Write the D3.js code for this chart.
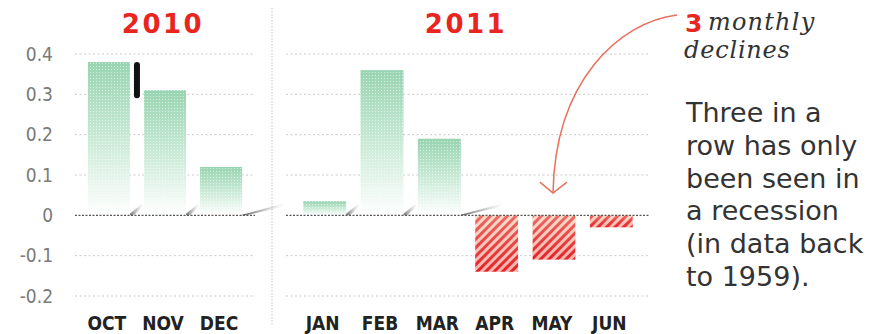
<!DOCTYPE html>
<html><head><meta charset="utf-8">
<script src="https://cdn.jsdelivr.net/npm/d3@7"></script>
<style>
html,body{margin:0;padding:0;background:#fff;}
svg{display:block;}
</style></head>
<body>
<script>
// ---- data ----
const years = ["2010", "2011"];
const months2010 = ["OCT", "NOV", "DEC"];
const values2010 = [0.38, 0.31, 0.12];
const months2011 = ["JAN", "FEB", "MAR", "APR", "MAY", "JUN"];
const values2011 = [0.035, 0.36, 0.19, -0.14, -0.11, -0.03];
const yTicks = [0.4, 0.3, 0.2, 0.1, 0, -0.1, -0.2];
const yTickLabels = ["0.4", "0.3", "0.2", "0.1", "0", "-0.1", "-0.2"];
const noteNumber = "3";
const noteTitle = ["monthly", "declines"];
const noteBody = ["Three in a", "row has only", "been seen in", "a recession", "(in data back", "to 1959)."];

// ---- layout ----
const W = 890, H = 334;
const svg = d3.select("body").append("svg").attr("width", W).attr("height", H);
const defs = svg.append("defs");

const y = d3.scaleLinear().domain([-0.2, 0.4]).range([296, 54]);
const x1 = d3.scaleBand().domain(months2010).range([75, 255]).paddingInner(0.25).paddingOuter(0.23);
const x2 = d3.scaleBand().domain(months2011).range([286, 650]).paddingInner(0.25).paddingOuter(0.3);

// gradients / patterns
const gPos = defs.append("linearGradient").attr("id", "gPos").attr("x1", 0).attr("y1", 0).attr("x2", 0).attr("y2", 1);
gPos.append("stop").attr("offset", 0).attr("stop-color", "#98d4b1");
gPos.append("stop").attr("offset", 0.45).attr("stop-color", "#c5e8d3");
gPos.append("stop").attr("offset", 1).attr("stop-color", "#ffffff");

const dots = defs.append("pattern").attr("id", "dots").attr("patternUnits", "userSpaceOnUse")
  .attr("width", 3).attr("height", 3);
dots.append("rect").attr("x", 0).attr("y", 0).attr("width", 1).attr("height", 1).attr("fill", "#fff").attr("opacity", 0.55);

const gNeg = defs.append("linearGradient").attr("id", "gNeg").attr("x1", 0).attr("y1", 0).attr("x2", 0).attr("y2", 1);
gNeg.append("stop").attr("offset", 0).attr("stop-color", "#fcdcc8");
gNeg.append("stop").attr("offset", 1).attr("stop-color", "#f7b3aa");

const hatch = defs.append("pattern").attr("id", "hatch").attr("patternUnits", "userSpaceOnUse")
  .attr("width", 6).attr("height", 6).attr("patternTransform", "rotate(45)");
hatch.append("rect").attr("x", 0).attr("y", 0).attr("width", 3).attr("height", 6).attr("fill", "#e2232a");

const gMaskGrad = defs.append("linearGradient").attr("id", "gMask").attr("x1", 0).attr("y1", 0).attr("x2", 0).attr("y2", 1);
gMaskGrad.append("stop").attr("offset", 0).attr("stop-color", "#fff").attr("stop-opacity", 0.6);
gMaskGrad.append("stop").attr("offset", 1).attr("stop-color", "#fff").attr("stop-opacity", 1);

const gShadow = defs.append("linearGradient").attr("id", "gShadow").attr("x1", 0).attr("y1", 0).attr("x2", 1).attr("y2", 0);
gShadow.append("stop").attr("offset", 0).attr("stop-color", "#333").attr("stop-opacity", 0.85);
gShadow.append("stop").attr("offset", 1).attr("stop-color", "#999").attr("stop-opacity", 0);

const fontCond = "'DejaVu Sans Condensed','DejaVu Sans',sans-serif";

// y tick labels
svg.append("g").selectAll("text").data(yTicks).join("text")
  .attr("x", 53).attr("y", d => y(d) + 1)
  .attr("text-anchor", "end").attr("dominant-baseline", "middle")
  .style("font-family", fontCond).style("font-stretch", "condensed")
  .attr("font-size", 19).attr("fill", "#7a7a7a")
  .text((d, i) => yTickLabels[i]);

// separator
svg.append("line").attr("x1", 272).attr("x2", 272).attr("y1", 8).attr("y2", 326)
  .attr("stroke", "#cfcfcf").attr("stroke-width", 1.2).attr("stroke-dasharray", "1.5,1.5");

function panel(x, months, values, year) {
  const g = svg.append("g");
  const [r0, r1] = x.range();
  // gridlines
  g.selectAll("line.grid").data(yTicks.filter(d => d !== 0)).join("line")
    .attr("x1", r0).attr("x2", r1).attr("y1", d => y(d)).attr("y2", d => y(d))
    .attr("stroke", "#c9c9c9").attr("stroke-width", 1).attr("stroke-dasharray", "2,2.5");
  const data = months.map((m, i) => ({ m, v: values[i], i }));
  const pos = data.filter(d => d.v > 0);
  // shadows
  g.selectAll("path.shadow").data(pos).join("path")
    .attr("d", d => {
      const bx = x(d.m) + x.bandwidth(), by = y(0);
      const next = data[d.i + 1];
      const L = (!next || next.v <= 0) ? 42 : 13;
      return `M${bx - 2},${by} L${bx + L},${by - 12} L${bx + L},${by - 9} L${bx + 4},${by} Z`;
    })
    .attr("fill", "url(#gShadow)");
  g.selectAll("rect.pos").data(pos).join("rect")
    .attr("x", d => x(d.m)).attr("width", x.bandwidth())
    .attr("y", d => y(d.v)).attr("height", d => y(0) - y(d.v))
    .attr("fill", "url(#gPos)");
  g.selectAll("rect.posd").data(pos).join("rect")
    .attr("x", d => x(d.m)).attr("width", x.bandwidth())
    .attr("y", d => y(d.v)).attr("height", d => y(0) - y(d.v))
    .attr("fill", "url(#dots)");
  // negative bars
  const neg = data.filter(d => d.v < 0);
  g.selectAll("rect.neg").data(neg).join("rect")
    .attr("x", d => x(d.m)).attr("width", x.bandwidth())
    .attr("y", y(0)).attr("height", d => y(d.v) - y(0))
    .attr("fill", "url(#gNeg)");
  neg.forEach(d => {
    const id = "m" + d.m;
    const mk = defs.append("mask").attr("id", id);
    mk.append("rect").attr("x", x(d.m)).attr("width", x.bandwidth())
      .attr("y", y(0)).attr("height", y(d.v) - y(0)).attr("fill", "url(#gMask)");
    g.append("rect").attr("x", x(d.m)).attr("width", x.bandwidth())
      .attr("y", y(0)).attr("height", y(d.v) - y(0))
      .attr("fill", "url(#hatch)").attr("mask", `url(#${id})`);
  });
  // zero line
  g.append("line").attr("x1", r0).attr("x2", r1).attr("y1", y(0)).attr("y2", y(0))
    .attr("stroke", "#555").attr("stroke-width", 1.4).attr("stroke-dasharray", "2,1.5");
  // month labels
  g.selectAll("text.month").data(data).join("text")
    .attr("x", d => x(d.m) + x.bandwidth() / 2 - 2).attr("y", 330)
    .attr("text-anchor", "middle")
    .style("font-family", fontCond).style("font-stretch", "condensed").attr("font-weight", "bold")
    .attr("font-size", 19).attr("fill", "#222").text(d => d.m);
  // year title
  g.append("text").attr("x", (r0 + r1) / 2 - 2).attr("y", 33).attr("text-anchor", "middle")
    .attr("font-family", "'DejaVu Sans',sans-serif").attr("font-weight", "bold")
    .attr("font-size", 26).attr("letter-spacing", 2.5).attr("fill", "#e8261f").text(year);
  return g;
}
panel(x1, months2010, values2010, years[0]);
panel(x2, months2011, values2011, years[1]);

// black decline marker between OCT and NOV
{
  const mx = x1(months2010[0]) + x1.bandwidth() + 7;
  svg.append("path")
    .attr("d", `M${mx},${y(values2010[0]) + 3} L${mx},${y(values2010[1]) + 5}`)
    .attr("stroke", "#111").attr("stroke-width", 6).attr("stroke-linecap", "round");
}

// annotation arrow
{
  const tx = x2("MAY") + x2.bandwidth() / 2 - 1;
  const ty = y(0.055);
  const sx = 677, sy = 15;
  svg.append("path")
    .attr("d", `M${sx},${sy} C${620},${22} ${tx + 2},${80} ${tx},${ty}`)
    .attr("fill", "none").attr("stroke", "#e8705c").attr("stroke-width", 1.5);
  svg.append("path")
    .attr("d", `M${tx - 13},${ty - 11} L${tx},${ty} L${tx + 14},${ty - 11}`)
    .attr("fill", "none").attr("stroke", "#e8705c").attr("stroke-width", 1.5);
}

// annotation text
svg.append("text").attr("x", 685).attr("y", 32)
  .attr("font-family", "'DejaVu Sans',sans-serif").attr("font-weight", "bold")
  .attr("font-size", 25).attr("fill", "#e8261f").text(noteNumber);
svg.append("text").attr("x", 708).attr("y", 30)
  .attr("font-family", "'DejaVu Serif',serif").attr("font-style", "italic")
  .attr("font-size", 24).attr("letter-spacing", 1.2).attr("fill", "#333").text(noteTitle[0]);
svg.append("text").attr("x", 684).attr("y", 58)
  .attr("font-family", "'DejaVu Serif',serif").attr("font-style", "italic")
  .attr("font-size", 24).attr("letter-spacing", 0.8).attr("fill", "#333").text(noteTitle[1]);

svg.append("g").selectAll("text").data(noteBody).join("text")
  .attr("x", 686).attr("y", (d, i) => 122 + i * 32.8)
  .attr("font-family", "'DejaVu Sans',sans-serif").attr("font-size", 27)
  .attr("fill", "#333").text(d => d);
</script>
</body></html>
